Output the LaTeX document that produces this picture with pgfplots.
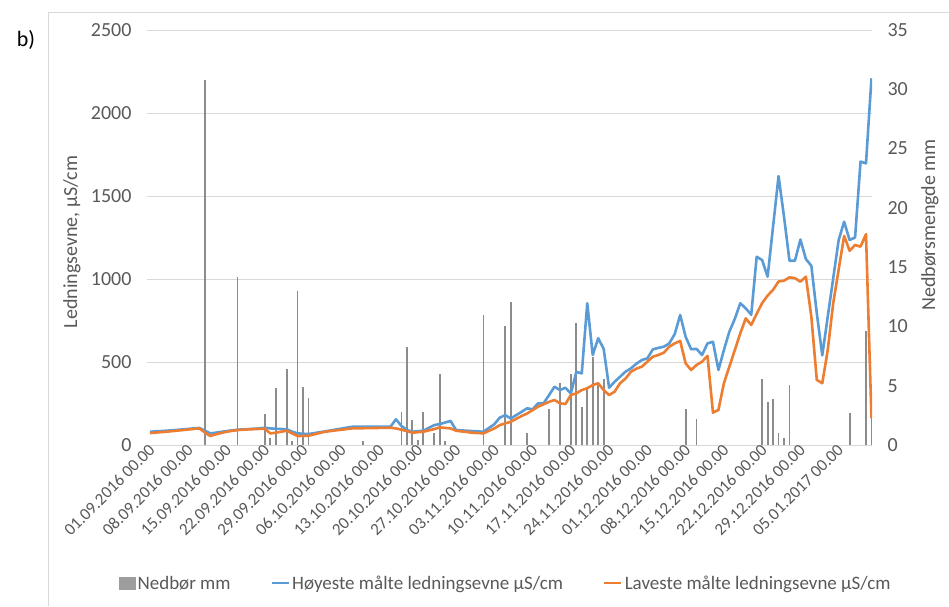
\documentclass[border=0pt]{standalone}
\usepackage{pgfplots}
\pgfplotsset{compat=1.18}
\usepackage{pgfplotstable}
\usepackage{fontspec}
\setmainfont{Carlito}
\definecolor{hblue}{HTML}{5B9BD5}
\definecolor{lorange}{HTML}{ED7D31}
\definecolor{bargray}{HTML}{8C8C8C}
\definecolor{txtgray}{HTML}{595959}
\definecolor{gridgray}{HTML}{D9D9D9}

\pgfplotstableread{
day H L
0 80 72
3 86 80
6 94 90
9 103 100
11 70 54
12 74 64
14 84 80
16 92 90
18 96 94
20 100 97
21 104 98
22 100 70
23 98 74
25 95 86
26 80 70
27 70 54
29 66 56
32 82 80
37 110 100
44 110 104
45 155 100
46 115 92
47 90 84
48 80 74
50 86 80
52 120 96
53 126 106
55 145 100
56 90 86
59 84 74
61 80 70
63 125 100
64 165 120
65 180 130
66 160 140
68 200 175
69 221 190
70 215 210
71 251 231
72 251 245
73 300 260
74 351 271
75 331 251
76 345 247
77 311 301
78 440 311
79 432 331
80 854 342
81 542 361
82 643 372
83 580 331
84 345 301
85 381 321
86 411 372
87 442 400
88 462 442
89 490 460
90 512 472
91 522 502
92 576 532
93 585 542
94 592 556
95 612 592
96 668 612
97 783 627
98 652 492
99 577 452
100 579 482
101 542 502
102 612 537
103 622 195
104 452 211
105 572 372
106 683 472
107 760 572
108 854 673
109 823 763
110 785 723
111 1134 790
112 1114 855
113 1014 900
114 1317 935
115 1620 985
116 1375 990
117 1110 1010
118 1110 1005
119 1238 984
120 1120 1014
121 1080 773
122 793 392
123 540 372
124 773 572
125 1004 854
126 1235 1057
127 1345 1260
128 1235 1170
129 1250 1205
130 1707 1195
131 1697 1270
132 2209 160
}\cond

\pgfplotstableread{
day mm
10 30.8
16 14.2
21 2.6
22 0.6
23 4.8
25 6.4
26 0.3
27 13.0
28 4.9
29 4.0
39 0.3
46 2.8
47 8.3
48 2.1
49 0.4
50 2.8
52 1.0
53 6.0
54 0.3
61 11.0
65 10.0
66 12.1
69 1.0
73 3.0
75 5.2
77 6.0
78 10.3
79 3.2
80 4.9
81 7.4
82 5.2
83 5.6
98 3.0
100 2.2
112 5.6
113 3.6
114 3.9
115 1.0
116 0.6
117 5.1
128 2.7
131 9.6
132 2.3
}\rain

\begin{document}
\begin{tikzpicture}[x=1pt,y=1pt]
\useasboundingbox (0,0) rectangle (949,606);
\draw[gridgray, line width=0.8pt] (48,0) -- (48,594) -- (949,594);

% precipitation (right axis)
\begin{axis}[
  at={(147pt,161pt)}, anchor=south west,
  scale only axis, width=725pt, height=415pt,
  xmin=-0.55, xmax=132.1, ymin=0, ymax=35,
  axis x line=none,
  axis y line*=right,
  y axis line style={draw=none},
  tick style={draw=none},
  ytick={0,5,...,35},
  extra y ticks={7,14,21,28,35},
  extra y tick labels={},
  extra y tick style={grid=major, major grid style={gridgray, line width=0.9pt}},
  /pgf/number format/assume math mode=true,
  /pgf/number format/1000 sep={},
  yticklabel style={font=\fontsize{20}{24}\selectfont, text=txtgray, xshift=12pt},
]
\addplot[ycomb, draw=bargray, line width=1.8pt, mark=none] table[x=day, y=mm] {\rain};
\end{axis}

% conductivity (left axis)
\begin{axis}[
  at={(147pt,161pt)}, anchor=south west,
  scale only axis, width=725pt, height=415pt,
  xmin=-0.55, xmax=132.1, ymin=0, ymax=2500,
  axis x line*=bottom,
  axis y line*=left,
  y axis line style={draw=none},
  x axis line style={draw=gridgray, line width=1pt},
  tick style={draw=none},
  ytick={0,500,...,2500},
  xtick={0,7,...,126},
  xticklabels={01.09.2016 00.00,08.09.2016 00.00,15.09.2016 00.00,22.09.2016 00.00,29.09.2016 00.00,06.10.2016 00.00,13.10.2016 00.00,20.10.2016 00.00,27.10.2016 00.00,03.11.2016 00.00,10.11.2016 00.00,17.11.2016 00.00,24.11.2016 00.00,01.12.2016 00.00,08.12.2016 00.00,15.12.2016 00.00,22.12.2016 00.00,29.12.2016 00.00,05.01.2017 00.00},
  xticklabel style={rotate=45, anchor=east, font=\fontsize{17}{20}\selectfont, text=txtgray, xshift=3pt, yshift=-3pt},
  /pgf/number format/assume math mode=true,
  /pgf/number format/1000 sep={},
  yticklabel style={font=\fontsize{20}{24}\selectfont, text=txtgray, xshift=-12pt},
  legend style={at={(0.495,-0.333)}, anchor=center, draw=none, fill=none,
    legend columns=3, font=\fontsize{19}{22}\selectfont, text=txtgray,
    /tikz/every even column/.append style={column sep=38pt}},
  legend cell align=left,
]
\addlegendimage{legend image code/.code={\fill[bargray!85] (0pt,-6pt) rectangle (16pt,6pt);}}
\addlegendentry{Nedbør mm}
\addplot[color=hblue, line width=2.6pt, mark=none, line join=round] table[x=day, y=H] {\cond};
\addlegendentry{Høyeste målte ledningsevne µS/cm}
\addplot[color=lorange, line width=2.6pt, mark=none, line join=round] table[x=day, y=L] {\cond};
\addlegendentry{Laveste målte ledningsevne µS/cm}
\end{axis}

\node[rotate=90, font=\fontsize{20}{24}\selectfont, text=txtgray] at (72,364) {Ledningsevne, µS/cm};
\node[rotate=90, font=\fontsize{20}{24}\selectfont, text=txtgray] at (930,381) {Nedbørsmengde mm};
\node[font=\fontsize{22}{26}\selectfont, text=black] at (26,566) {b)};
\end{tikzpicture}
\end{document}
